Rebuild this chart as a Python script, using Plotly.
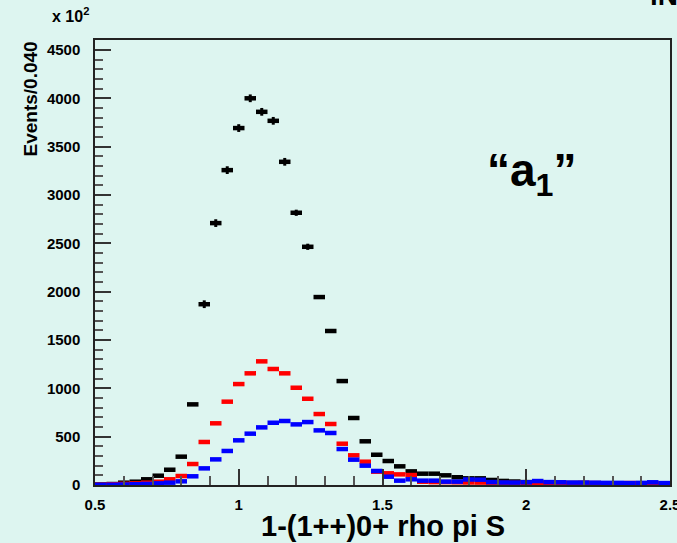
import plotly.graph_objects as go

# bin centres (bin width 0.04 from 0.5 to 2.5)
bin_centers = [0.52, 0.56, 0.60, 0.64, 0.68, 0.72, 0.76, 0.80, 0.84, 0.88,
               0.92, 0.96, 1.00, 1.04, 1.08, 1.12, 1.16, 1.20, 1.24, 1.28,
               1.32, 1.36, 1.40, 1.44, 1.48, 1.52, 1.56, 1.60, 1.64, 1.68,
               1.72, 1.76, 1.80, 1.84, 1.88, 1.92, 1.96, 2.00, 2.04, 2.08,
               2.12, 2.16, 2.20, 2.24, 2.28, 2.32, 2.36, 2.40, 2.44, 2.48]

black_vals = [5, 10, 24, 34, 59, 96, 158, 293, 834, 1870,
              2709, 3257, 3692, 4000, 3860, 3767, 3343, 2816, 2464, 1944,
              1593, 1075, 693, 452, 313, 248, 193, 141, 117, 117,
              100, 80, 69, 69, 52, 42, 36, 30, 26, 24,
              22, 20, 20, 18, 18, 16, 15, 15, 14, 13]
black_err = [0, 0, 0, 0, 0, 0, 0, 0, 0, 40,
             40, 40, 40, 40, 40, 40, 40, 32, 32, 0,
             0, 0, 0, 0, 0, 0, 0, 0, 0, 0,
             0, 0, 0, 0, 0, 0, 0, 0, 0, 0,
             0, 0, 0, 0, 0, 0, 0, 0, 0, 0]

red_vals = [3, 8, 12, 17, 24, 34, 59, 93, 217, 445,
            638, 862, 1044, 1155, 1279, 1200, 1155, 1006, 892, 734,
            631, 427, 307, 241, 138, 121, 110, 103, 34, 30,
            30, 28, 26, 25, 24, 22, 22, 20, 18, 20,
            20, 20, 22, 20, 18, 18, 20, 16, 15, 12]

blue_vals = [2, 3, 5, 8, 11, 17, 24, 38, 90, 172,
             265, 352, 462, 531, 596, 644, 662, 627, 651, 565,
             538, 372, 262, 200, 145, 86, 45, 59, 45, 45,
             35, 35, 57, 55, 30, 26, 25, 28, 41, 30,
             28, 25, 25, 24, 22, 22, 20, 22, 28, 20]

x_tickvals = [0.5, 1.0, 1.5, 2.0, 2.5]
x_ticktext = ["0.5", "1", "1.5", "2", "2.5"]
y_tickvals = [0, 500, 1000, 1500, 2000, 2500, 3000, 3500, 4000, 4500]
y_ticktext = ["0", "500", "1000", "1500", "2000", "2500", "3000", "3500", "4000", "4500"]

BG = "#ddf5f0"
FONT = "Liberation Sans"

fig = go.Figure()

def add_series(vals, color, errs=None):
    ey = dict(visible=False)
    if errs is not None:
        ey = dict(type="data", array=errs, visible=True, color=color,
                  thickness=3, width=0)
    fig.add_trace(go.Scatter(
        x=bin_centers, y=vals, mode="markers",
        marker=dict(size=1, color=color, opacity=1),
        error_x=dict(type="constant", value=0.02, color=color,
                     thickness=4.5, width=0, visible=True),
        error_y=ey,
        showlegend=False, hoverinfo="skip", cliponaxis=True))

add_series(black_vals, "#000000", black_err)
add_series(red_vals, "#ff0000")
add_series(blue_vals, "#0000ff")

tickfont = dict(family=FONT, size=15, color="black", weight="bold")

fig.update_xaxes(range=[0.5, 2.5], tickvals=x_tickvals, ticktext=x_ticktext,
                 showline=True, mirror=True, linecolor="#222222", linewidth=1.5,
                 ticks="inside", tickcolor="#333333", showgrid=False, zeroline=False,
                 tickfont=tickfont, ticklabeloverflow="allow", automargin=False,
                 ticklen=16, tickwidth=1.5, ticklabelstandoff=5,
                 minor=dict(ticks="inside", dtick=0.1, tick0=0.5, ticklen=9,
                            tickcolor="#555555", tickwidth=1.5))
fig.update_yaxes(range=[0, 4603], tickvals=y_tickvals, ticktext=y_ticktext,
                 showline=True, mirror=True, linecolor="#222222", linewidth=1.5,
                 ticks="inside", tickcolor="#333333", showgrid=False, zeroline=False,
                 tickfont=tickfont, ticklabeloverflow="allow", automargin=False,
                 ticklen=16, tickwidth=1.5, ticklabelstandoff=10,
                 minor=dict(ticks="inside", dtick=100, tick0=0, ticklen=8,
                            tickcolor="#555555", tickwidth=1.5))

fig.add_annotation(text="x 10<sup>2</sup>", xref="paper", yref="paper",
                   x=-0.078, y=1.057, xanchor="left", yanchor="middle", showarrow=False,
                   font=dict(family=FONT, size=16, color="black", weight="bold"))
fig.add_annotation(text="Events/0.040", xref="paper", yref="paper", textangle=-90,
                   x=-0.113, y=1.0, xanchor="center", yanchor="top", showarrow=False,
                   font=dict(family=FONT, size=19, color="black", weight="bold"))
fig.add_annotation(text="1-(1++)0+ rho pi S", xref="paper", yref="paper",
                   x=0.5, y=-0.092, xanchor="center", yanchor="middle", showarrow=False,
                   font=dict(family=FONT, size=29, color="black", weight="bold"))
fig.add_annotation(text="\u201ca<sub>1</sub>\u201d", xref="paper", yref="paper",
                   x=0.76, y=0.70, xanchor="center", yanchor="middle", showarrow=False,
                   font=dict(family=FONT, size=46, color="black", weight="bold"))
fig.add_annotation(text="iN", xref="paper", yref="paper",
                   x=0.962, y=1.06, xanchor="left", yanchor="bottom", showarrow=False,
                   font=dict(family=FONT, size=28, color="black", weight="bold"))

fig.update_layout(width=677, height=543, paper_bgcolor=BG, plot_bgcolor=BG,
                  margin=dict(l=95, r=7, t=40, b=58, autoexpand=False),
                  showlegend=False)

fig.write_html("out.html")
